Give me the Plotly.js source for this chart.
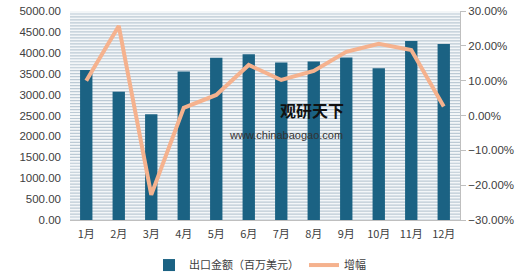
<!DOCTYPE html>
<html><head><meta charset="utf-8">
<script src="https://cdn.plot.ly/plotly-3.0.1.min.js"></script>
<style>html,body{margin:0;padding:0;background:#fff;}#chart{width:520px;height:279px;}</style>
</head><body><div id="chart"></div>
<script>
const months = ['1月','2月','3月','4月','5月','6月','7月','8月','9月','10月','11月','12月'];
const exportValue = [3590, 3070, 2530, 3550, 3880, 3965, 3765, 3790, 3890, 3630, 4280, 4210];
const growth = [10.0, 25.7, -22.8, 2.2, 5.9, 14.5, 10.2, 12.8, 18.3, 20.6, 18.8, 2.6];
const barName = '出口金额（百万美元）';
const lineName = '增幅';

// decorative horizontal stripe background of the plot area
const shapes = [{type: 'rect', xref: 'paper', yref: 'paper', x0: 0, x1: 1, y0: 0, y1: 1, fillcolor: '#f3f6f8', line: {width: 0}, layer: 'below'}];
for (let i = 0; i < 70; i++) {
  const yy = i / 70;
  shapes.push({type: 'line', xref: 'paper', yref: 'paper', x0: 0, x1: 1, y0: yy, y1: yy, line: {color: '#bccad5', width: 1.2}, layer: 'below'});
}

const data = [
  {type: 'bar', x: months, y: exportValue, name: barName, marker: {color: '#1b6283'}, width: 0.38},
  {type: 'scatter', mode: 'lines', x: months, y: growth, name: lineName, yaxis: 'y2',
   line: {color: '#f5b28e', width: 4}}
];
const layout = {
  width: 520, height: 279,
  margin: {l: 70, r: 60, t: 11, b: 59},
  paper_bgcolor: '#ffffff', plot_bgcolor: 'rgba(0,0,0,0)',
  font: {family: 'Liberation Sans, Arial, sans-serif', size: 11, color: '#404040'},
  showlegend: true,
  xaxis: {showgrid: false, showline: true, linecolor: '#bfbfbf', ticks: '', tickfont: {size: 11, color: '#404040', family: 'Noto Sans CJK SC, sans-serif'}, ticklabelstandoff: 4},
  yaxis: {range: [0, 5000], dtick: 500, tickformat: '.2f', showgrid: false, zeroline: false, showline: false, ticks: '', tickfont: {size: 11.5, color: '#404040'}, ticklabelstandoff: 8},
  yaxis2: {overlaying: 'y', side: 'right', range: [-30, 30], dtick: 10, tickformat: '.2f', ticksuffix: '%', showgrid: false, zeroline: false,
           showline: true, linecolor: '#bfbfbf', ticks: 'outside', ticklen: 5, tickcolor: '#bfbfbf', tickfont: {size: 11.5, color: '#404040'}},
  legend: {orientation: 'h', x: 0.5, xanchor: 'center', xref: 'container', y: 0.05, yanchor: 'middle', yref: 'container', bgcolor: '#ffffff',
           font: {size: 11, color: '#404040', family: 'Noto Sans CJK SC, sans-serif'}},
  shapes: shapes,
  annotations: [
    {text: '<b>观研天下</b>', xref: 'paper', yref: 'paper', x: 0.62, y: 0.525, showarrow: false,
     font: {size: 16, color: '#111', family: 'Noto Sans CJK SC, sans-serif'}},
    {text: 'www.chinabaogao.com', xref: 'paper', yref: 'paper', x: 0.555, y: 0.405, showarrow: false,
     font: {size: 11, color: '#333', family: 'Liberation Sans, Arial, sans-serif'}}
  ]
};
Plotly.newPlot('chart', data, layout, {displayModeBar: false, staticPlot: true});
</script></body></html>
